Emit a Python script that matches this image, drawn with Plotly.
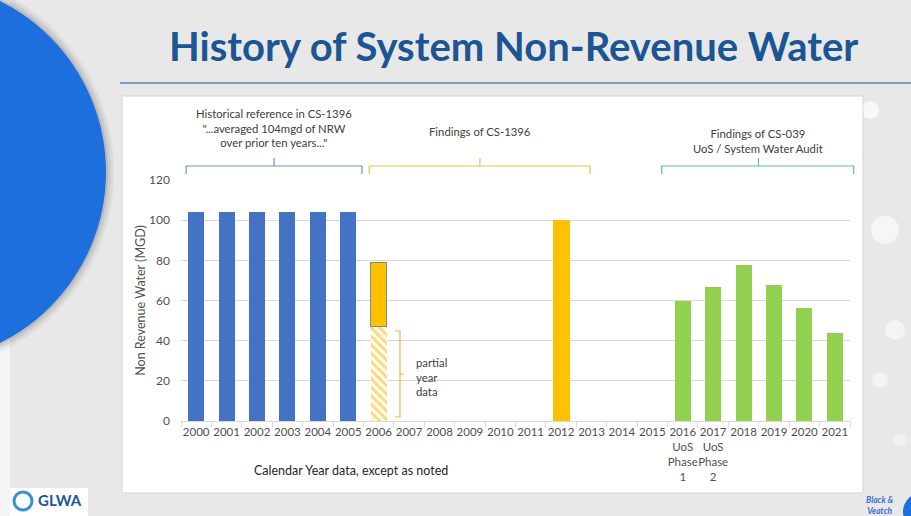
import plotly.graph_objects as go

# ---- data ----
years = ["2000", "2001", "2002", "2003", "2004", "2005", "2006", "2007", "2008", "2009", "2010",
         "2011", "2012", "2013", "2014", "2015", "2016", "2017", "2018", "2019", "2020", "2021"]
tick_labels = ["2000", "2001", "2002", "2003", "2004", "2005", "2006", "2007", "2008", "2009", "2010",
               "2011", "2012", "2013", "2014", "2015", "2016<br>UoS<br>Phase<br>1",
               "2017<br>UoS<br>Phase<br>2", "2018", "2019", "2020", "2021"]

hist_years = ["2000", "2001", "2002", "2003", "2004", "2005"]
hist_nrw = [104, 104, 104, 104, 104, 104]

partial_years = ["2006"]
partial_nrw = [47]

cs1396_years = ["2006", "2012"]
cs1396_nrw = [32, 100]          # 2006 stacks on top of the partial-year part

cs039_years = ["2016", "2017", "2018", "2019", "2020", "2021"]
cs039_nrw = [60, 66.5, 77.5, 67.5, 56.5, 44]

BLUE = "#4472C4"
ORANGE = "#FFC000"
GREEN = "#92D050"
GRID = "#d9d9d9"
TXT = "#595959"
FONT = "Lato"

# plot area in page pixels
W, H = 911, 516
PL, PR, PT, PB = 181, 850, 180, 421


def fx(px):
    return (px - PL) / (PR - PL)


def fy(py):
    return (PB - py) / (PB - PT)


def cat_x(idx):
    # category index -> paper x
    return (idx + 0.5) / len(years)


fig = go.Figure()

fig.add_trace(go.Bar(x=hist_years, y=hist_nrw, marker=dict(color=BLUE, line=dict(width=0))))
fig.add_trace(go.Bar(x=partial_years, y=partial_nrw,
                     marker=dict(color="white", line=dict(width=0),
                                 pattern=dict(shape="\\", fgcolor="#f8b800", bgcolor="white",
                                              size=6, solidity=0.55))))
fig.add_trace(go.Bar(x=cs1396_years, y=cs1396_nrw,
                     marker=dict(color=ORANGE, line=dict(color=["#7a8c8c", ORANGE], width=1))))
fig.add_trace(go.Bar(x=cs039_years, y=cs039_nrw, marker=dict(color=GREEN, line=dict(width=0))))

shapes = []
# slide background decorations
shapes.append(dict(type="rect", xref="paper", yref="paper", x0=fx(0), x1=fx(10), y0=fy(516), y1=fy(0),
                   fillcolor="#f4f4f4", line=dict(width=0), layer="below"))
for grow, op in [(8, 0.05), (5, 0.07), (2, 0.09)]:
    shapes.append(dict(type="circle", xref="paper", yref="paper",
                       x0=fx(-85 - 191 - grow), x1=fx(-85 + 191 + grow),
                       y0=fy(172 + 191 + grow), y1=fy(172 - 191 - grow),
                       fillcolor=f"rgba(0,0,0,{op})", line=dict(width=0), layer="below"))
shapes.append(dict(type="circle", xref="paper", yref="paper",
                   x0=fx(-85 - 191), x1=fx(-85 + 191), y0=fy(172 + 191), y1=fy(172 - 191),
                   fillcolor="#1e6fde", line=dict(width=0), layer="below"))
for cx, cy, r, op in [(885, 230, 14, 0.6), (895, 330, 10, 0.5), (880, 380, 8, 0.5), (870, 110, 9, 0.7),
                      (900, 440, 6, 0.4)]:
    shapes.append(dict(type="circle", xref="paper", yref="paper", x0=fx(cx - r), x1=fx(cx + r),
                       y0=fy(cy + r), y1=fy(cy - r), fillcolor=f"rgba(255,255,255,{op})",
                       line=dict(width=0), layer="below"))
# title underline
shapes.append(dict(type="line", xref="paper", yref="paper", x0=fx(120), x1=fx(911), y0=fy(83), y1=fy(83),
                   line=dict(color="#5a87b5", width=1.5), layer="below"))
# white chart panel
shapes.append(dict(type="rect", xref="paper", yref="paper", x0=fx(122), x1=fx(863), y0=fy(493), y1=fy(96),
                   fillcolor="white", line=dict(color="#d6d6d6", width=1), layer="below"))
# logo boxes
shapes.append(dict(type="rect", xref="paper", yref="paper", x0=fx(10), x1=fx(88), y0=fy(516), y1=fy(488),
                   fillcolor="white", line=dict(width=0), layer="below"))
shapes.append(dict(type="circle", xref="paper", yref="paper", x0=fx(14), x1=fx(32), y0=fy(510), y1=fy(492),
                   fillcolor="rgba(0,0,0,0)", line=dict(color="#3a8fd8", width=3)))
shapes.append(dict(type="circle", xref="paper", yref="paper", x0=fx(903), x1=fx(940), y0=fy(530), y1=fy(493),
                   fillcolor="#1e6fde", line=dict(width=0), layer="below"))

# group brackets: (left idx, right idx, centre idx, colour)
brackets = [
    (-0.33, 5.45, 2.56, "#6f94d2"),
    (5.69, 12.95, 9.33, "#f5c242"),
    (15.31, 21.62, 18.49, "#5cc389"),
]
yb, ye, yt = fy(166), fy(174), fy(158)
for x0, x1, xc, col in brackets:
    a, b, c = cat_x(x0), cat_x(x1), cat_x(xc)
    shapes.append(dict(type="path", xref="paper", yref="paper",
                       path=f"M {a},{ye} L {a},{yb} L {b},{yb} L {b},{ye} M {c},{yb} L {c},{yt}",
                       line=dict(color=col, width=1.2)))
# partial-year bracket next to 2006
bx = fx(400)
shapes.append(dict(type="path", xref="paper", yref="paper",
                   path=(f"M {fx(395)},{fy(331)} L {bx},{fy(331)} L {bx},{fy(417)} L {fx(395)},{fy(417)} "
                         f"M {bx},{fy(374)} L {fx(404)},{fy(374)}"),
                   line=dict(color="#f5b342", width=1.2)))

annotations = [
    dict(text="<b>History of System Non-Revenue Water</b>", x=fx(513), y=fy(46),
         font=dict(family=FONT, size=40, color="#1b5594")),
    dict(text="Historical reference in CS-1396<br>\"...averaged 104mgd of NRW<br>over prior ten years...\"",
         x=cat_x(2.56), y=fy(128), font=dict(family=FONT, size=11.3, color="#404040")),
    dict(text="Findings of CS-1396", x=cat_x(9.33), y=fy(131), font=dict(family=FONT, size=11.3, color="#404040")),
    dict(text="Findings of CS-039<br>UoS / System Water Audit", x=cat_x(18.49), y=fy(141),
         font=dict(family=FONT, size=11.3, color="#404040")),
    dict(text="partial<br>year<br>data", x=fx(414), y=fy(377), xanchor="left", align="left",
         font=dict(family=FONT, size=11.3, color="#404040")),
    dict(text="Calendar Year data, except as noted", x=fx(351), y=fy(470),
         font=dict(family=FONT, size=12.5, color="#262626")),
    dict(text="<b>GLWA</b>", x=fx(36), y=fy(500), xanchor="left",
         font=dict(family=FONT, size=15, color="#1b5594")),
    dict(text="<i><b>Black &amp;<br>Veatch</b></i>", x=fx(880), y=fy(505),
         font=dict(family=FONT, size=8.5, color="#3a6fd0")),
]
for a in annotations:
    a.setdefault("xref", "paper")
    a.setdefault("yref", "paper")
    a.setdefault("showarrow", False)
    a.setdefault("xanchor", "center")
    a.setdefault("yanchor", "middle")

fig.update_layout(
    width=W, height=H, autosize=False,
    margin=dict(l=PL, r=W - PR, t=PT, b=H - PB, pad=0),
    paper_bgcolor="#e8e8e8", plot_bgcolor="rgba(0,0,0,0)",
    barmode="stack", bargap=0.47,
    showlegend=False,
    font=dict(family=FONT, size=12, color=TXT),
    shapes=shapes, annotations=annotations,
)
fig.update_xaxes(type="category", categoryorder="array", categoryarray=years,
                 tickvals=years, ticktext=tick_labels, range=[-0.5, len(years) - 0.5],
                 showline=True, linecolor=GRID, linewidth=1, ticks="outside", tickson="boundaries",
                 ticklen=5, tickcolor=GRID, showgrid=False, automargin=False, tickangle=0,
                 tickfont=dict(family=FONT, size=11.5, color="#505050"))
fig.update_yaxes(range=[0, 120], dtick=20, showgrid=True, gridcolor=GRID, gridwidth=1, zeroline=False,
                 showline=False, ticks="", ticklabelstandoff=10, automargin=False,
                 tickfont=dict(family=FONT, size=12, color="#505050"),
                 title=dict(text="Non Revenue Water (MGD)", standoff=0,
                            font=dict(family=FONT, size=12.5, color="#505050")))

fig.write_html("out.html", config={"displayModeBar": False},
               post_script="document.body.style.margin='0';")
